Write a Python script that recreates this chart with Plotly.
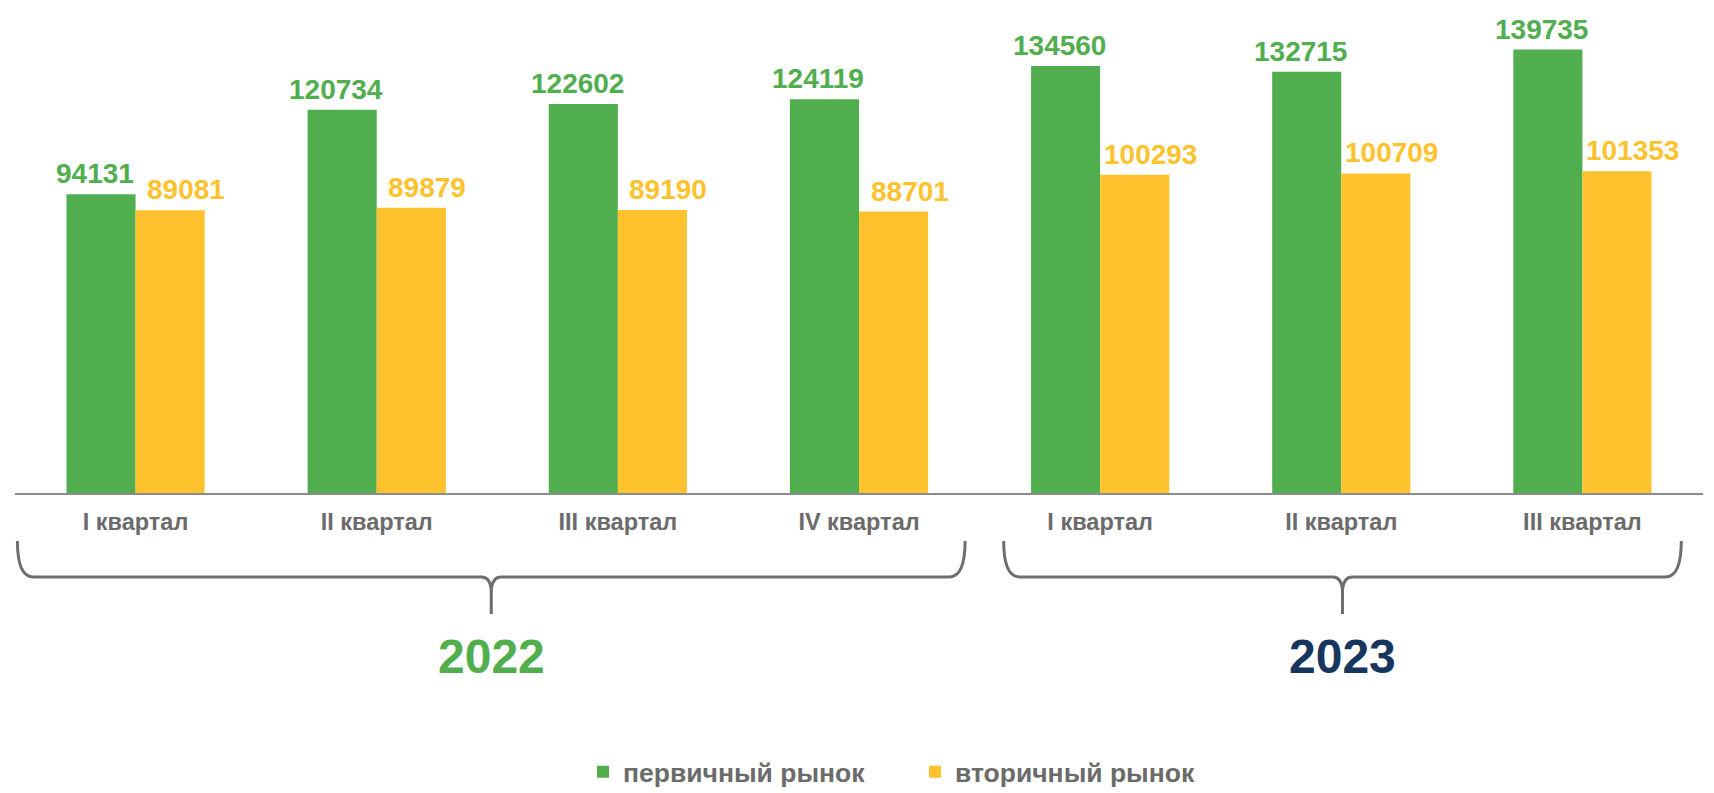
import plotly.graph_objects as go

# ---- data ----
quarters = ["I квартал", "II квартал", "III квартал", "IV квартал",
            "I квартал ", "II квартал ", "III квартал "]
quarter_labels = ["I квартал", "II квартал", "III квартал", "IV квартал",
                  "I квартал", "II квартал", "III квартал"]
primary = [94131, 120734, 122602, 124119, 134560, 132715, 139735]
secondary = [89081, 89879, 89190, 88701, 100293, 100709, 101353]
series_names = ["первичный рынок", "вторичный рынок"]
years = ["2022", "2023"]

# ---- style / layout (page pixel coordinates) ----
PAGE_W, PAGE_H = 1714, 793
OFF = 8                       # browser body margin
W, H = PAGE_W - OFF, PAGE_H - OFF
PLOT_L, PLOT_R, PLOT_T, PLOT_B = 15, 1703, 17, 493   # plot area in page px
ML, MT = PLOT_L - OFF, PLOT_T - OFF
MR = W - (PLOT_R - OFF)
MB = H - (PLOT_B - OFF)
GREEN = "#50AE4F"
YELLOW = "#FEC22E"
NAVY = "#17365D"
GRAY = "#6B6B6B"
FONT = "Liberation Sans"
BARGAP = 0.427
plot_w = PLOT_R - PLOT_L
plot_h = PLOT_B - PLOT_T
slot_px = plot_w / len(quarters)
bar_off = slot_px * (1 - BARGAP) / 4  # center of each bar relative to group center

fig = go.Figure()
fig.add_trace(go.Bar(x=quarters, y=primary, name=series_names[0],
                     marker=dict(color=GREEN, line=dict(width=0))))
fig.add_trace(go.Bar(x=quarters, y=secondary, name=series_names[1],
                     marker=dict(color=YELLOW, line=dict(width=0))))

annotations = []
for vals, col, shift in [(primary, GREEN, -bar_off - 6), (secondary, YELLOW, bar_off + 16)]:
    for q, v in zip(quarters, vals):
        annotations.append(dict(x=q, y=v, xref="x", yref="y", text=str(v),
                                showarrow=False, yanchor="bottom", xanchor="center",
                                xshift=shift, yshift=3,
                                font=dict(family=FONT, size=28, color=col, weight="bold")))


def py(page_y):
    return (PLOT_B - page_y) / plot_h


def pxu(p):
    return p / slot_px


spans = [(-0.49, 3.44), (3.60, 6.41)]
yT, yH, yB = py(541), py(577), py(614)
r = 16
ry = r / plot_h
rx = pxu(r)
rt = 10
rty = rt / plot_h
rtx = pxu(rt)
shapes = []
year_colors = [GREEN, NAVY]
for (a, b), yr, yc in zip(spans, years, year_colors):
    xm = (a + b) / 2
    path = (f"M{a},{yT} Q{a},{yH} {a + rx},{yH} "
            f"L{xm - rtx},{yH} Q{xm},{yH} {xm},{yH - rty * 1.6} L{xm},{yB} "
            f"M{xm},{yH - rty * 1.6} Q{xm},{yH} {xm + rtx},{yH} "
            f"L{b - rx},{yH} Q{b},{yH} {b},{yT}")
    shapes.append(dict(type="path", xref="x", yref="paper", path=path,
                       line=dict(color="#6E6E6E", width=3)))
    annotations.append(dict(x=xm, y=py(656), xref="x", yref="paper", text=yr,
                            showarrow=False, xanchor="center", yanchor="middle",
                            font=dict(family=FONT, size=48, color=yc, weight="bold")))

legend_x_fig = 601 - OFF - 18
fig.update_layout(
    width=W, height=H,
    margin=dict(l=ML, r=MR, t=MT, b=MB, autoexpand=False),
    paper_bgcolor="white", plot_bgcolor="white",
    barmode="group", bargap=BARGAP, bargroupgap=0,
    xaxis=dict(type="category", tickmode="array", tickvals=quarters, ticktext=quarter_labels,
               showline=True, linecolor="#8C8C8C", linewidth=2, showgrid=False,
               ticks="", ticklabelstandoff=7,
               tickfont=dict(family=FONT, size=23.5, color=GRAY, weight="bold"),
               range=[-0.5, 6.5], fixedrange=True),
    yaxis=dict(range=[0, 150000], visible=False, showgrid=False, zeroline=False),
    showlegend=True,
    legend=dict(orientation="h", x=(legend_x_fig - ML) / plot_w, xref="paper", xanchor="left",
                y=1 - (748 - OFF) / H, yanchor="top", yref="container",
                entrywidth=287, entrywidthmode="pixels",
                font=dict(family=FONT, size=26.5, color=GRAY, weight="bold"),
                bgcolor="rgba(0,0,0,0)", itemclick=False),
    annotations=annotations,
    shapes=shapes,
)

fig.write_html("out.html", config={"displayModeBar": False})
